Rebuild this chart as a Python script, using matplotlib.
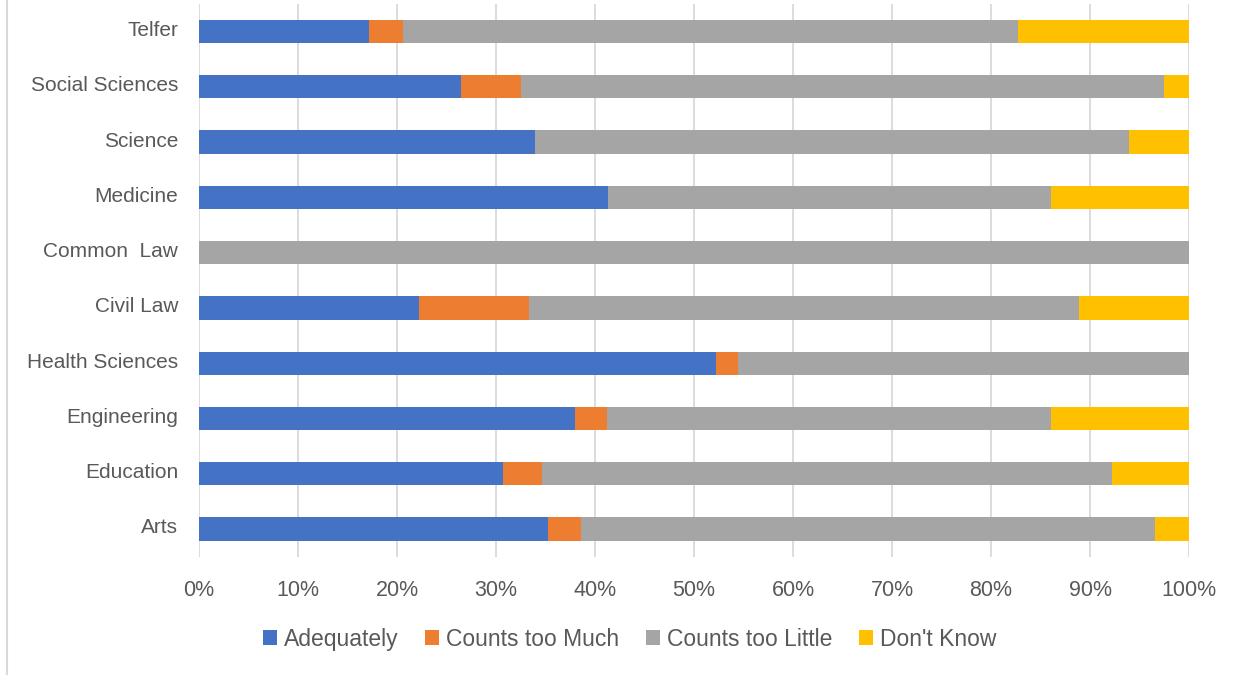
import numpy as np
import matplotlib.pyplot as plt
import matplotlib.transforms as mtransforms
from matplotlib.lines import Line2D
from matplotlib.ticker import PercentFormatter

# ==========================================
# DATA (percent of respondents per faculty)
# ==========================================
faculties = ['Arts', 'Education', 'Engineering', 'Health Sciences', 'Civil Law',
             'Common  Law', 'Medicine', 'Science', 'Social Sciences', 'Telfer']
series_names = ['Adequately', 'Counts too Much', 'Counts too Little', "Don't Know"]
adequately = [35.3, 30.7, 38.0, 52.2, 22.2, 0.0, 41.3, 33.9, 26.5, 17.2]
too_much = [3.3, 3.9, 3.2, 2.2, 11.1, 0.0, 0.0, 0.0, 6.0, 3.4]
too_little = [58.0, 57.6, 44.9, 45.6, 55.6, 100.0, 44.8, 60.0, 65.0, 62.1]
dont_know = [3.4, 7.8, 13.9, 0.0, 11.1, 0.0, 13.9, 6.1, 2.5, 17.3]
colors = ['#4472C4', '#ED7D31', '#A5A5A5', '#FFC000']
# ==========================================

plt.rcParams['font.family'] = ['Liberation Sans', 'DejaVu Sans']
text_color = '#595959'

fig = plt.figure(figsize=(12.37, 6.75), dpi=100)
ax = fig.add_axes([0.1609, 0.1754, 0.8003, 0.8188])

y = np.arange(len(faculties))
left = np.zeros(len(faculties))
for name, vals, c in zip(series_names, [adequately, too_much, too_little, dont_know], colors):
    vals = np.array(vals)
    ax.barh(y, vals, left=left, height=0.42, color=c, label=name, zorder=3)
    left += vals

ax.set_xlim(0, 100)
ax.set_ylim(-0.5, len(faculties) - 0.5)
ax.set_xticks(np.arange(0, 101, 10))
ax.xaxis.set_major_formatter(PercentFormatter(decimals=0))
ax.set_yticks(y)
ax.set_yticklabels(faculties)
ax.tick_params(axis='both', length=0, colors=text_color)
ax.tick_params(axis='x', pad=17, labelsize=15.5)
ax.tick_params(axis='y', pad=15, labelsize=15)
ax.grid(axis='x', color='#d9d9d9', linewidth=1.3, zorder=0)
ax.set_axisbelow(True)
for s in ax.spines.values():
    s.set_visible(False)

# category labels sit a little above the bar centres in the original
shift = mtransforms.ScaledTranslation(0, 3 / 100, fig.dpi_scale_trans)
for lbl in ax.get_yticklabels():
    lbl.set_transform(lbl.get_transform() + shift)

leg = fig.legend(loc='center', bbox_to_anchor=(0.509, 0.053), ncol=4, frameon=False,
                 fontsize=16.5, handlelength=0.62, handleheight=0.62, handletextpad=0.3,
                 columnspacing=1.15)
for t in leg.get_texts():
    t.set_color(text_color)

# chart frame edge on the left
fig.add_artist(Line2D([7 / 1237, 7 / 1237], [0, 1], color='#d9d9d9', linewidth=1.5,
                      transform=fig.transFigure))

fig.savefig('out.png', dpi=100)
